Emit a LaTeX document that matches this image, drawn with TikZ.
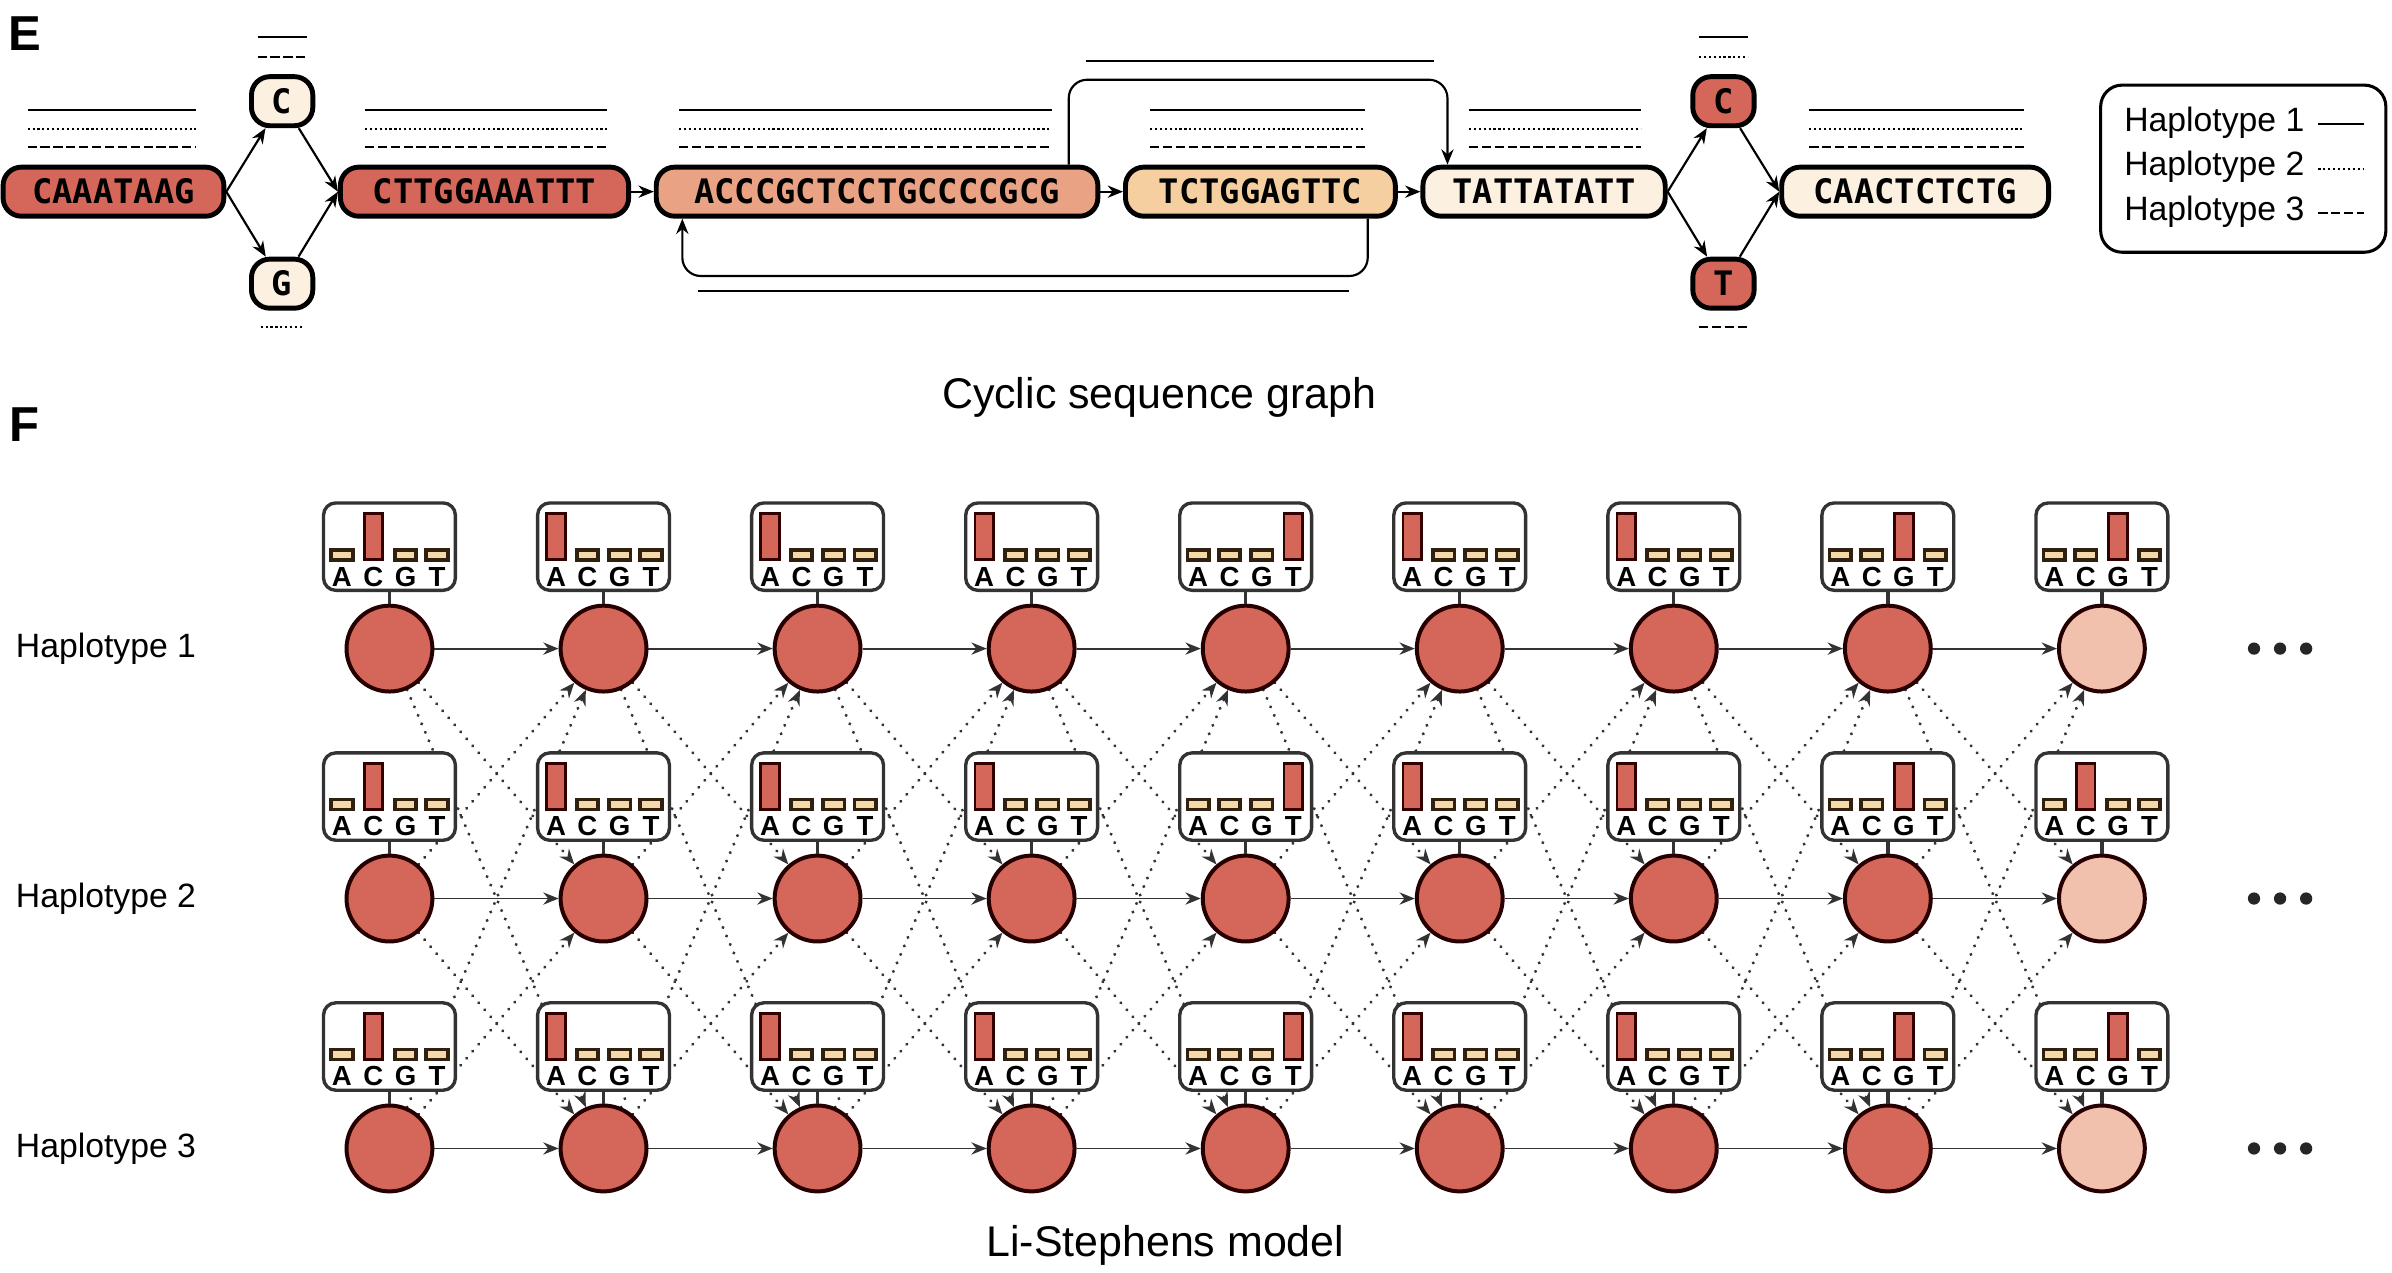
\documentclass[tikz,border=0pt]{standalone}
\usepackage{fontspec}
\setmainfont{Liberation Sans}
\newfontfamily\seqf{DejaVu Sans Mono}
\usetikzlibrary{arrows.meta,backgrounds}
\definecolor{redA}{HTML}{D4675A}
\definecolor{salm}{HTML}{E9A384}
\definecolor{lora}{HTML}{F5CFA0}
\definecolor{crm}{HTML}{FCF0E0}
\definecolor{pinkc}{HTML}{F2C1AE}
\definecolor{tan}{HTML}{F5D9A8}
\definecolor{dk}{HTML}{333333}
\begin{document}
\begin{tikzpicture}[x=0.5pt,y=-0.5pt,
  seq/.style={draw=black,line width=1.6pt,rounded corners=6pt,minimum height=16pt,inner sep=0pt,font=\seqf\bfseries\fontsize{11}{11}\selectfont},
  arr/.style={-{Stealth[length=5pt,width=4pt]},line width=0.7pt},
  h1/.style={line width=0.7pt},
  h2/.style={line width=0.7pt,dash pattern=on 0.7pt off 0.9pt},
  h3/.style={line width=0.7pt,dash pattern=on 3pt off 1.2pt},
  state/.style={circle,draw=black!85!red,line width=1.3pt,minimum size=28pt,inner sep=0pt},
  ebox/.style={draw=dk,fill=white,line width=1.1pt,rounded corners=4pt,minimum width=43pt,minimum height=28.5pt,inner sep=0pt},
  trs/.style={-{Stealth[length=5pt,width=4pt]},line width=0.6pt,dk},
  trd/.style={-{Stealth[length=5pt,width=4pt]},line width=1.1pt,dk,dash pattern=on 0.01pt off 3pt,line cap=round},
  lab/.style={font=\fontsize{11}{13}\selectfont,anchor=west,inner sep=0pt},
  capt/.style={font=\fontsize{14}{16}\selectfont}]
\useasboundingbox (0,0) rectangle (1560,830);
\node[font=\bfseries\fontsize{16}{16}\selectfont] (E) at (16,22) {E};
\node[font=\bfseries\fontsize{16}{16}\selectfont] (F) at (16,277) {F};
% sequence graph
\node[seq,fill=redA,minimum width=72pt] (s1) at (74,125) {CAAATAAG};
\node[seq,fill=crm,minimum width=20pt] (c1) at (184,66) {C};
\node[seq,fill=crm,minimum width=20pt] (g1) at (184,185) {G};
\node[seq,fill=redA,minimum width=94pt] (s2) at (316,125) {CTTGGAAATTT};
\node[seq,fill=salm,minimum width=144pt] (s3) at (572,125) {ACCCGCTCCTGCCCCGCG};
\node[seq,fill=lora,minimum width=88pt] (s4) at (822,125) {TCTGGAGTTC};
\node[seq,fill=crm,minimum width=79pt] (s5) at (1007,125) {TATTATATT};
\node[seq,fill=redA,minimum width=20pt] (c2) at (1124,66) {C};
\node[seq,fill=redA,minimum width=20pt] (t2) at (1124,185) {T};
\node[seq,fill=crm,minimum width=87pt] (s6) at (1249,125) {CAACTCTCTG};
\draw[arr] (s1.east) -- (c1);
\draw[arr] (s1.east) -- (g1);
\draw[arr] (c1) -- (s2.west);
\draw[arr] (g1) -- (s2.west);
\draw[arr] (s2) -- (s3);
\draw[arr] (s3) -- (s4);
\draw[arr] (s4) -- (s5);
\draw[arr] (s5.east) -- (c2);
\draw[arr] (s5.east) -- (t2);
\draw[arr] (c2) -- (s6.west);
\draw[arr] (t2) -- (s6.west);
\coordinate (la) at (697,52); \coordinate (lb) at (944,52);
\coordinate (lc) at (892,180); \coordinate (ld) at (445,180);
\draw[arr,rounded corners=6pt] (s3.north -| la) -- (la) -- (lb) -- (s5.north -| lb);
\draw[arr,rounded corners=6pt] (s4.south -| lc) -- (lc) -- (ld) -- (s3.south -| ld);
% haplotype paths
\foreach \a/\b in {18/128,238/396,443/686,750/890,958/1070,1180/1320}{
  \draw[h1] (\a,72) -- (\b,72);
  \draw[h2] (\a,84) -- (\b,84);
  \draw[h3] (\a,96) -- (\b,96);}
\draw[h1] (168,24) -- (200,24); \draw[h3] (168,37) -- (200,37);
\draw[h2] (170,213) -- (198,213);
\draw[h1] (1108,24) -- (1140,24); \draw[h2] (1108,37) -- (1140,37);
\draw[h3] (1108,213) -- (1140,213);
\draw[h1] (708,40) -- (935,40);
\draw[h1] (455,190) -- (880,190);
% legend
\node[draw,rounded corners=7pt,line width=1pt,minimum width=93pt,minimum height=54.5pt] (leg) at (1463,110) {};
\node[lab] (l1) at (1385,80) {Haplotype 1};
\node[lab] (l2) at (1385,109) {Haplotype 2};
\node[lab] (l3) at (1385,138) {Haplotype 3};
\draw[h1] (1512,81) -- (1542,81);
\draw[h2] (1512,110) -- (1542,110);
\draw[h3] (1512,139) -- (1542,139);
\node[capt] (cap1) at (756,259) {Cyclic sequence graph};
% Li-Stephens
\foreach \r/\y/\pat in {1/423/{C,A,A,A,T,A,A,G,G},2/586/{C,A,A,A,T,A,A,G,C},3/749/{C,A,A,A,T,A,A,G,G}}{
  \node[lab] (hl\r) at (10,\y) {Haplotype \r};
  \foreach \t [count=\c] in \pat {
    \pgfmathsetmacro\x{254+(\c-1)*139.6}
    \ifnum\c=9 \def\cf{pinkc}\else\def\cf{redA}\fi
    \node[state,fill=\cf] (n-\r-\c) at (\x,\y) {};
    \node[ebox] (e-\r-\c) at (\x,\y-66.5) {};
    \draw[line width=1.1pt,dk] (e-\r-\c) -- (n-\r-\c);
    \foreach \L/\ox in {A/-31,C/-10.5,G/10.5,T/31}{
      \edef\aa{\L}\edef\bb{\t}
      \ifx\aa\bb
        \filldraw[fill=redA,draw=black!80!red,line width=0.9pt] (\x+\ox-6,\y-88) rectangle (\x+\ox+6,\y-58);
      \else
        \filldraw[fill=tan,draw=black!75!brown,line width=1.2pt] (\x+\ox-7,\y-64.5) rectangle (\x+\ox+7,\y-58);
      \fi
      \node[font=\bfseries\fontsize{9}{9}\selectfont,inner sep=0pt] at (\x+\ox,\y-47) {\L};
    }
  }
  \foreach \d in {1470,1487,1504} \fill[black!85] (\d,\y) circle (4);
}
\begin{scope}[on background layer]
\foreach \c in {1,...,8}{
  \pgfmathtruncatemacro\dd{\c+1}
  \foreach \r in {1,2,3}{
    \foreach \s in {1,2,3}{
      \ifnum\r=\s \draw[trs] (n-\r-\c) -- (n-\s-\dd);
      \else \draw[trd] (n-\r-\c) -- (n-\s-\dd); \fi
    }}}
\end{scope}
\node[capt] (cap2) at (760,812) {Li-Stephens model};
\end{tikzpicture}
\end{document}
